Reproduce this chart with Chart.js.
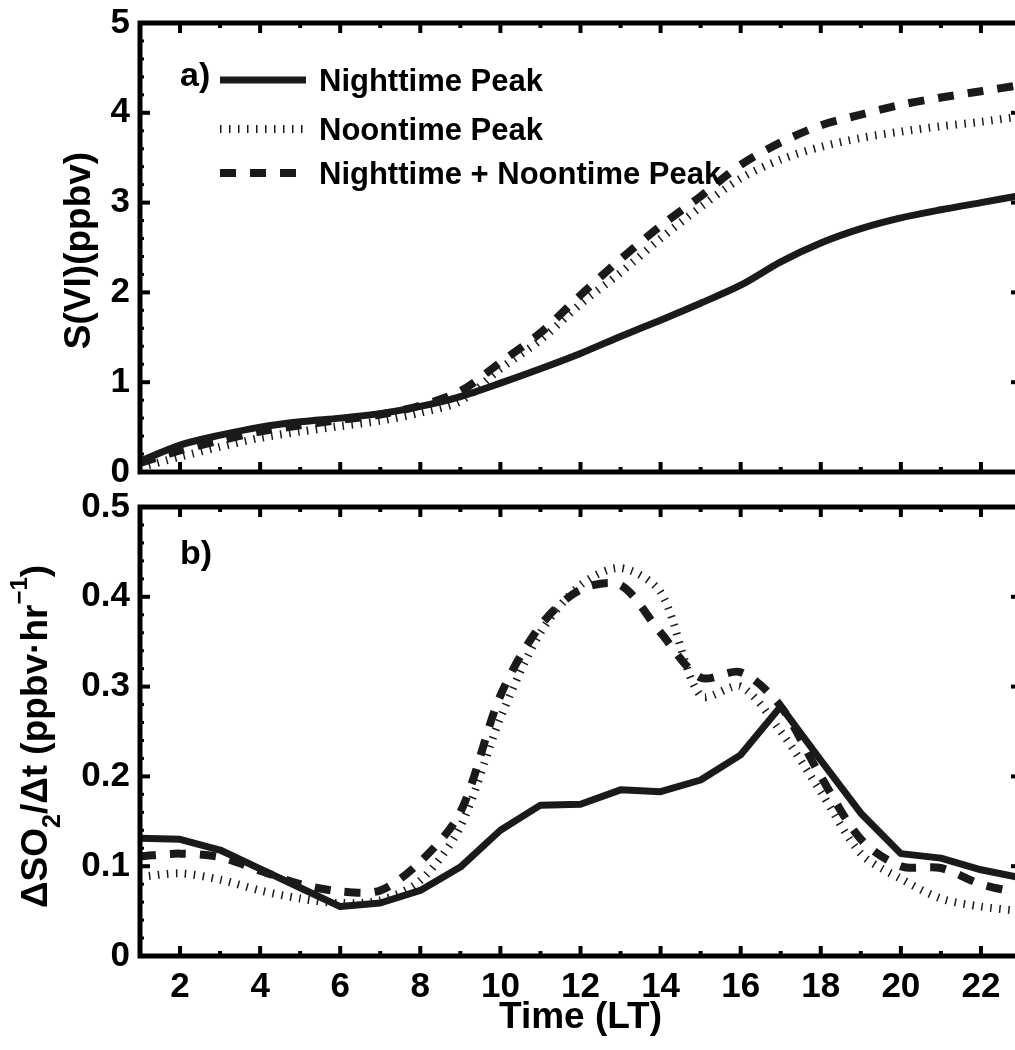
<!DOCTYPE html>
<html>
<head>
<meta charset="utf-8">
<title>S(VI) and SO2 loss rate</title>
<script src="https://cdn.jsdelivr.net/npm/chart.js@4.4.0/dist/chart.umd.min.js"></script>
<style>
  html, body { margin: 0; padding: 0; background: #fff; overflow: hidden; }
  #wrap { position: relative; width: 1025px; height: 1050px; }
  #topBox { position: absolute; left: 0; top: -20px; width: 1025px; height: 532px; }
  #botBox { position: absolute; left: 0; top: 470px; width: 1025px; height: 580px; }
</style>
</head>
<body>
<div id="wrap">
  <div id="topBox"><canvas id="sviChart"></canvas></div>
  <div id="botBox"><canvas id="rateChart"></canvas></div>
</div>
<script>
// hours of the day (LT)
const hours = [1, 2, 3, 4, 5, 6, 7, 8, 9, 10, 11, 12, 13, 14, 15, 16, 17, 18, 19, 20, 21, 22, 23];
const xTicks = [2, 4, 6, 8, 10, 12, 14, 16, 18, 20, 22];
const seriesNames = ['Nighttime Peak', 'Noontime Peak', 'Nighttime + Noontime Peak'];

// panel a) S(VI) (ppbv)
const sviNighttime = [0.12, 0.30, 0.41, 0.50, 0.56, 0.60, 0.65, 0.73, 0.84, 0.99, 1.15, 1.32, 1.51, 1.69, 1.88, 2.08, 2.34, 2.55, 2.71, 2.83, 2.92, 3.00, 3.08];
const sviNoontime = [0.05, 0.17, 0.28, 0.38, 0.45, 0.51, 0.57, 0.66, 0.79, 1.15, 1.47, 1.87, 2.22, 2.60, 2.95, 3.27, 3.48, 3.62, 3.72, 3.79, 3.85, 3.90, 3.96];
const sviCombined = [0.10, 0.24, 0.35, 0.45, 0.52, 0.58, 0.64, 0.74, 0.90, 1.22, 1.55, 1.97, 2.37, 2.74, 3.07, 3.42, 3.67, 3.86, 3.98, 4.09, 4.17, 4.24, 4.31];
const sviTicks = [0, 1, 2, 3, 4, 5];

// panel b) dSO2/dt (ppbv/hr)
const rateNighttime = [0.131, 0.130, 0.118, 0.097, 0.076, 0.055, 0.059, 0.073, 0.099, 0.140, 0.168, 0.169, 0.185, 0.183, 0.196, 0.224, 0.278, 0.218, 0.159, 0.114, 0.109, 0.096, 0.087];
const rateNoontime = [0.088, 0.092, 0.085, 0.073, 0.064, 0.059, 0.062, 0.084, 0.144, 0.265, 0.360, 0.413, 0.432, 0.405, 0.290, 0.300, 0.250, 0.183, 0.114, 0.086, 0.064, 0.055, 0.050];
const rateCombined = [0.111, 0.114, 0.110, 0.095, 0.080, 0.072, 0.073, 0.105, 0.160, 0.290, 0.368, 0.408, 0.413, 0.360, 0.310, 0.316, 0.278, 0.200, 0.130, 0.100, 0.098, 0.080, 0.070];
const rateTicks = [0, 0.1, 0.2, 0.3, 0.4, 0.5];

const FONT = '"Liberation Sans", Arial, Helvetica, sans-serif';
const INK = '#1a1a1a';
Chart.defaults.font.family = FONT;
Chart.defaults.color = '#000';

const lineStyles = [
  { borderWidth: 7, borderDash: [] },
  { borderWidth: 8, borderDash: [1.5, 7.5] },
  { borderWidth: 8, borderDash: [16, 14] }
];

function toPoints(values) {
  return hours.map((h, i) => ({ x: h, y: values[i] }));
}

function makeDatasets(seriesList, tensions) {
  return seriesList.map((vals, i) => ({
    label: seriesNames[i],
    data: toPoints(vals),
    borderColor: INK,
    borderWidth: lineStyles[i].borderWidth,
    borderDash: lineStyles[i].borderDash,
    borderCapStyle: 'butt',
    borderJoinStyle: 'round',
    tension: tensions[i],
    pointRadius: 0,
    fill: false
  }));
}

// draws text made of pieces (for sub/superscripts), rotated to read upward
function drawRotatedRich(ctx, pieces, baseX, centerY) {
  ctx.save();
  ctx.translate(baseX, centerY);
  ctx.rotate(-Math.PI / 2);
  ctx.textBaseline = 'alphabetic';
  ctx.textAlign = 'left';
  let total = 0;
  pieces.forEach(p => {
    ctx.font = `bold ${p.size}px ${FONT}`;
    p.w = ctx.measureText(p.text).width;
    total += p.w;
  });
  let x = -total / 2;
  pieces.forEach(p => {
    ctx.font = `bold ${p.size}px ${FONT}`;
    ctx.fillText(p.text, x, p.dy || 0);
    x += p.w;
  });
  ctx.restore();
}

const panelPlugin = {
  id: 'panel',
  afterDraw(chart, args, o) {
    const { ctx, chartArea: a } = chart;
    const xs = chart.scales.x, ys = chart.scales.y;
    ctx.save();
    ctx.strokeStyle = '#000';
    ctx.fillStyle = '#000';
    ctx.lineCap = 'butt';
    ctx.setLineDash([]);

    const seg = (x1, y1, x2, y2) => { ctx.beginPath(); ctx.moveTo(x1, y1); ctx.lineTo(x2, y2); ctx.stroke(); };

    // inward ticks on all four sides
    ctx.lineWidth = 4;
    for (let h = Math.ceil(xs.min); h <= xs.max; h++) {
      const px = xs.getPixelForValue(h);
      const len = h % 2 === 0 ? 10 : 5;
      seg(px, a.bottom, px, a.bottom - len);
      seg(px, a.top, px, a.top + len);
    }
    const nMinor = Math.round((ys.max - ys.min) / o.yMinor);
    for (let k = 0; k <= nMinor; k++) {
      const v = ys.min + k * o.yMinor;
      const py = ys.getPixelForValue(v);
      const major = k % o.minorPerMajor === 0;
      const len = major ? 10 : 4;
      ctx.lineWidth = major ? 4 : 3;
      seg(a.left, py, a.left + len, py);
      seg(a.right, py, a.right - len, py);
    }

    ctx.lineWidth = 5;
    ctx.strokeRect(a.left, a.top, a.right - a.left, a.bottom - a.top);

    // panel tag
    ctx.font = `bold 34px ${FONT}`;
    ctx.textBaseline = 'middle';
    ctx.textAlign = 'left';
    ctx.fillText(o.tag, a.left + 40, a.top + o.tagDy);

    // y axis title
    drawRotatedRich(ctx, o.yTitle, o.yTitleX, (a.top + a.bottom) / 2 + o.yTitleDy);

    // legend inside the plot
    if (o.legend) {
      const rows = [57, 106, 150];
      chart.data.datasets.forEach((ds, i) => {
        const y = a.top + rows[i];
        ctx.save();
        ctx.strokeStyle = ds.borderColor;
        ctx.lineWidth = ds.borderWidth;
        ctx.setLineDash(ds.borderDash);
        seg(220, y, 306, y);
        ctx.restore();
        ctx.font = `bold 31px ${FONT}`;
        ctx.textBaseline = 'middle';
        ctx.fillText(ds.label, 319, y + 2);
      });
    }
    ctx.restore();
  }
};

function baseOptions(cfg) {
  return {
    responsive: true,
    maintainAspectRatio: false,
    animation: false,
    layout: { padding: { top: cfg.padTop, right: 4, left: 0, bottom: 0 } },
    plugins: {
      legend: { display: false },
      tooltip: { enabled: false },
      panel: cfg.panel
    },
    scales: {
      x: {
        type: 'linear',
        min: 1,
        max: 23,
        grid: { display: false, drawTicks: false },
        border: { display: false },
        afterBuildTicks: s => { s.ticks = xTicks.map(v => ({ value: v })); },
        afterFit: s => { s.height = cfg.xHeight; },
        ticks: {
          display: cfg.showX,
          padding: 10,
          maxRotation: 0,
          autoSkip: false,
          font: { size: 35, weight: 'bold' },
          color: '#000'
        },
        title: {
          display: cfg.showX,
          text: 'Time (LT)',
          font: { size: 37, weight: 'bold' },
          color: '#000',
          padding: { top: 0, bottom: 10 }
        }
      },
      y: {
        min: cfg.yTicks[0],
        max: cfg.yTicks[cfg.yTicks.length - 1],
        grid: { display: false, drawTicks: false },
        border: { display: false },
        afterBuildTicks: s => { s.ticks = cfg.yTicks.map(v => ({ value: v })); },
        afterFit: s => { s.width = 140; },
        ticks: {
          padding: 10,
          autoSkip: false,
          font: { size: 35, weight: 'bold' },
          color: '#000',
          callback: v => (v === 0 ? '0' : cfg.fmt(v))
        }
      }
    }
  };
}

new Chart(document.getElementById('sviChart'), {
  type: 'line',
  data: { datasets: makeDatasets([sviNighttime, sviNoontime, sviCombined], [0.3, 0.3, 0.3]) },
  options: baseOptions({
    padTop: 43,
    xHeight: 40,
    showX: false,
    yTicks: sviTicks,
    fmt: v => String(v),
    panel: {
      tag: 'a)',
      tagDy: 54,
      yMinor: 0.2,
      minorPerMajor: 5,
      yTitleX: 90,
      yTitleDy: 3,
      yTitle: [{ text: 'S(VI)(ppbv)', size: 37 }],
      legend: true
    }
  }),
  plugins: [panelPlugin]
});

new Chart(document.getElementById('rateChart'), {
  type: 'line',
  data: { datasets: makeDatasets([rateNighttime, rateNoontime, rateCombined], [0, 0.3, 0.3]) },
  options: baseOptions({
    padTop: 37,
    xHeight: 94,
    showX: true,
    yTicks: rateTicks,
    fmt: v => v.toFixed(1),
    panel: {
      tag: 'b)',
      tagDy: 48,
      yMinor: 0.02,
      minorPerMajor: 5,
      yTitleX: 47,
      yTitleDy: 5,
      yTitle: [
        { text: '\u0394SO', size: 37 },
        { text: '2', size: 25, dy: 13 },
        { text: '/\u0394t (ppbv\u00b7hr', size: 37 },
        { text: '\u22121', size: 24, dy: -20 },
        { text: ')', size: 37 }
      ],
      legend: false
    }
  }),
  plugins: [panelPlugin]
});
</script>
</body>
</html>
